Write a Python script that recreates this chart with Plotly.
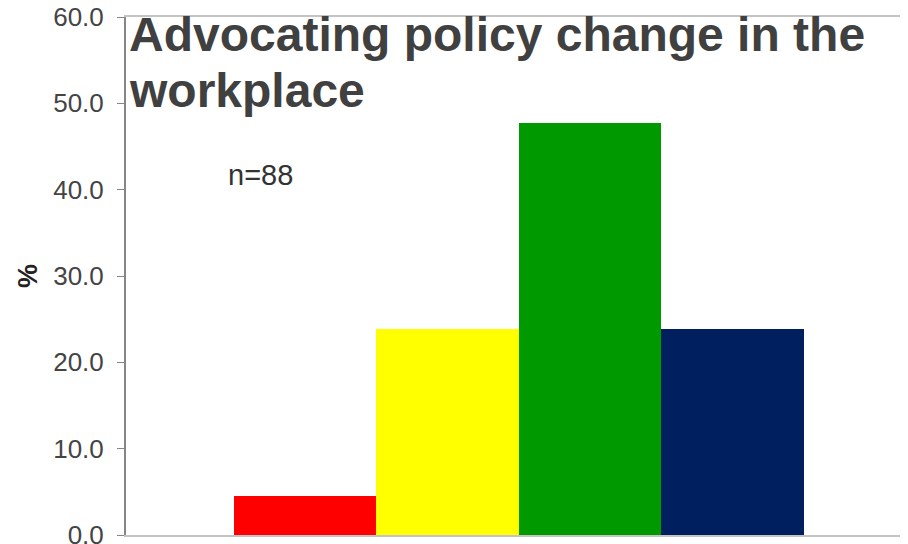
import plotly.graph_objects as go

categories = ["Cat1", "Cat2", "Cat3", "Cat4"]
values = [4.5, 23.9, 47.7, 23.9]
colors = ["#FF0000", "#FFFF00", "#009900", "#001F5F"]
tick_vals = [0, 10, 20, 30, 40, 50, 60]
tick_text = ["0.0", "10.0", "20.0", "30.0", "40.0", "50.0", "60.0"]

# page has an 8px body margin; layout in page pixels
OFF = 8
W, H = 900, 560
plot_left, plot_top, plot_bot = 126, 17, 535  # page px
L = plot_left - OFF
T = plot_top - OFF
B = (H + OFF) - plot_bot
PW = W - L
PH = (plot_bot - plot_top)

def px(x):
    return (x - plot_left) / PW

def py(y):
    return (plot_bot - y) / PH

fig = go.Figure()
fig.add_trace(go.Bar(x=list(range(len(categories))), y=values,
                     marker=dict(color=colors, line=dict(width=0)),
                     width=1, hoverinfo="skip"))

fig.update_layout(
    width=W, height=H,
    margin=dict(l=L, r=0, t=T, b=B, autoexpand=False),
    plot_bgcolor="white", paper_bgcolor="white",
    showlegend=False, bargap=0,
    font=dict(family="Liberation Sans, Arial, sans-serif"),
    xaxis=dict(range=[-1.254, 4.23], showticklabels=False, ticks="", showgrid=False,
               zeroline=False, showline=True, linecolor="#C4C4C4", linewidth=2, mirror=True,
               automargin=False),
    yaxis=dict(range=[0, 60], tickvals=tick_vals, ticktext=tick_text, ticks="outside",
               ticklen=7, tickcolor="#868686", showgrid=False, zeroline=False,
               showline=True, linecolor="#868686", linewidth=2,
               tickfont=dict(size=26, color="#444444"), ticklabelstandoff=8,
               ticklabeloverflow="allow", automargin=False,
               title=dict(text="<b>%</b>", font=dict(size=27, color="#222222"), standoff=8)),
    annotations=[
        dict(text="<b>Advocating policy change in the</b>", xref="paper", yref="paper",
             x=px(127), y=py(34.5), xanchor="left", yanchor="middle", showarrow=False,
             font=dict(size=48, color="#404040")),
        dict(text="<b>workplace</b>", xref="paper", yref="paper",
             x=px(127), y=py(90), xanchor="left", yanchor="middle", showarrow=False,
             font=dict(size=48, color="#404040")),
        dict(text="n=88", xref="paper", yref="paper",
             x=px(226), y=py(175), xanchor="left", yanchor="middle", showarrow=False,
             font=dict(size=29, color="#333333")),
    ],
)

fig.write_html("out.html")
